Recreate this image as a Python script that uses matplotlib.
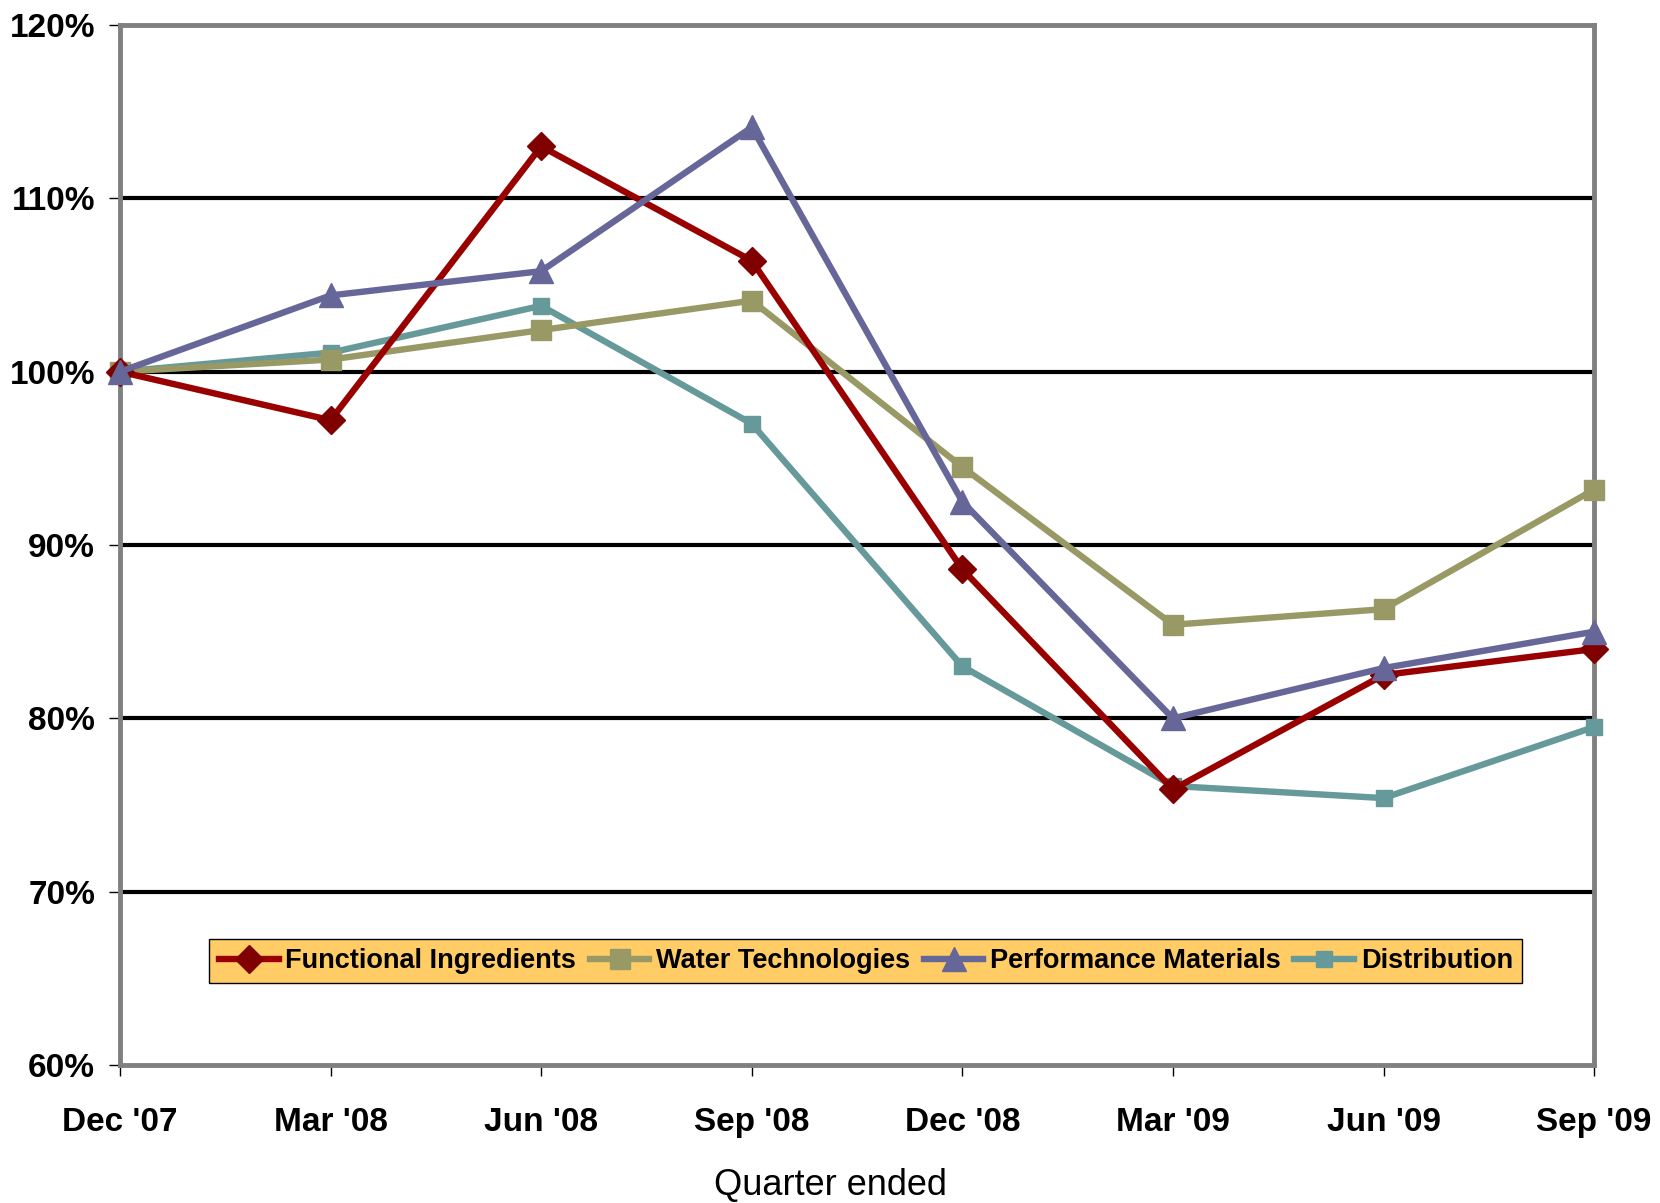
import matplotlib
matplotlib.use('Agg')
import matplotlib.pyplot as plt
from matplotlib.ticker import FuncFormatter

plt.rcParams['font.family'] = ['Liberation Sans Narrow', 'Liberation Sans', 'DejaVu Sans']

quarters = ["Dec '07", "Mar '08", "Jun '08", "Sep '08", "Dec '08", "Mar '09", "Jun '09", "Sep '09"]
functional = [100.0, 97.2, 113.0, 106.4, 88.6, 75.9, 82.5, 84.0]
water = [100.0, 100.7, 102.4, 104.1, 94.5, 85.4, 86.3, 93.2]
performance = [100.0, 104.4, 105.8, 114.1, 92.5, 80.0, 82.9, 85.0]
distribution = [100.0, 101.1, 103.8, 97.0, 83.0, 76.1, 75.4, 79.5]

fig = plt.figure(figsize=(16.6, 12.03), dpi=100)
ax = fig.add_axes([0.0723, 0.1147, 0.888, 0.8645])

x = range(len(quarters))
ax.plot(x, functional, color='#990000', lw=4.6, marker='D', ms=14, mfc='#800000', mec='#800000',
        label='Functional Ingredients', zorder=5, clip_on=False)
ax.plot(x, water, color='#999966', lw=4.6, marker='s', ms=14, mfc='#999966', mec='#999966',
        label='Water Technologies', zorder=4, clip_on=False)
ax.plot(x, performance, color='#666699', lw=4.6, marker='^', ms=17, mfc='#666699', mec='#666699',
        label='Performance Materials', zorder=6, clip_on=False)
ax.plot(x, distribution, color='#669999', lw=4.6, marker='s', ms=11, mfc='#669999', mec='#669999',
        label='Distribution', zorder=3, clip_on=False)

ax.set_xlim(0, len(quarters) - 1)
ax.set_ylim(60, 120)
ax.set_yticks(range(60, 121, 10))
ax.yaxis.set_major_formatter(FuncFormatter(lambda v, p: f'{v:.0f}%'))
ax.set_xticks(list(x))
ax.set_xticklabels(quarters)

for g in range(70, 120, 10):
    ax.axhline(g, color='black', lw=3, zorder=1)

for s in ax.spines.values():
    s.set_color('#808080')
    s.set_linewidth(3.5)

ax.tick_params(axis='both', labelsize=24, direction='out', length=8, width=1, color='black')
ax.tick_params(axis='x', pad=22)
ax.tick_params(axis='y', pad=10)
for lab in ax.get_xticklabels() + ax.get_yticklabels():
    lab.set_fontweight('bold')

ax.set_xlabel('Quarter ended', fontsize=26)
ax.xaxis.set_label_coords(0.482, -0.099)

leg = ax.legend(loc='center', bbox_to_anchor=(0.506, 0.1), ncol=4,
                prop={'weight': 'bold', 'size': 19.5}, frameon=True, fancybox=False,
                handlelength=2.2, handletextpad=0.25, columnspacing=0.5, borderpad=0.35,
                borderaxespad=0)
leg.get_frame().set_facecolor('#FFCC66')
leg.get_frame().set_edgecolor('black')
leg.get_frame().set_alpha(1)
leg.get_frame().set_linewidth(1)

fig.savefig('out.png', dpi=100)
